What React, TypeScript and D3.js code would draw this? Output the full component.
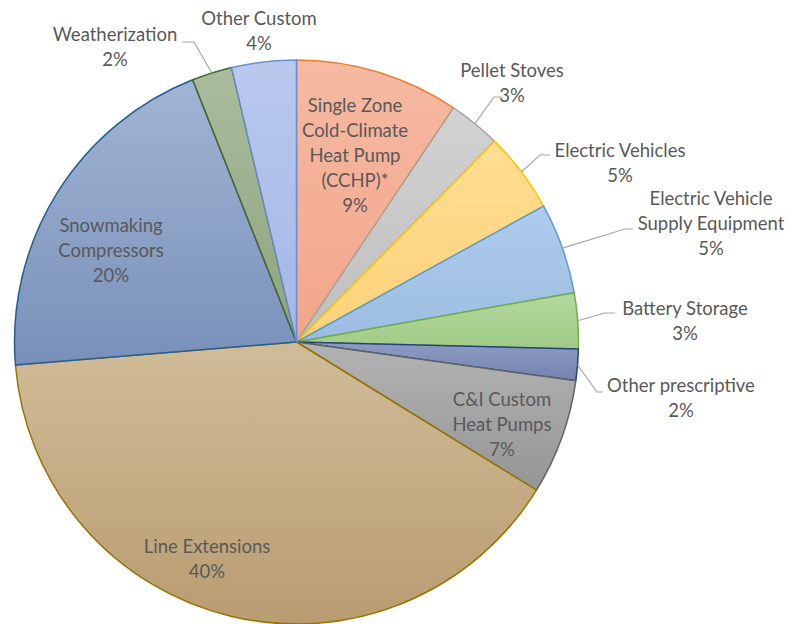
import * as React from 'react';
import * as d3 from 'd3';

// slice order, clockwise from 12 o'clock
const categories = [
  'Single Zone Cold-Climate Heat Pump (CCHP)*',
  'Pellet Stoves',
  'Electric Vehicles',
  'Electric Vehicle Supply Equipment',
  'Battery Storage',
  'Other prescriptive',
  'C&I Custom Heat Pumps',
  'Line Extensions',
  'Snowmaking Compressors',
  'Weatherization',
  'Other Custom',
];
const shares = [9.4, 3.0, 4.6, 5.2, 3.2, 1.8, 6.6, 39.9, 20.3, 2.3, 3.7];
const labelLines = [
  ['Single Zone', 'Cold-Climate', 'Heat Pump', '(CCHP)*'],
  ['Pellet Stoves'],
  ['Electric Vehicles'],
  ['Electric Vehicle', 'Supply Equipment'],
  ['Battery Storage'],
  ['Other prescriptive'],
  ['C&I Custom', 'Heat Pumps'],
  ['Line Extensions'],
  ['Snowmaking', 'Compressors'],
  ['Weatherization'],
  ['Other Custom'],
];

const edgeColors = ['#ED7D31', '#A5A5A5', '#FFC000', '#5B9BD5', '#70AD47', '#264478', '#636363', '#997300', '#255E91', '#43682B', '#698ED0'];
const topColors = ['#F6B9A2', '#D2D2D2', '#FFDD92', '#AECBEB', '#B4D89D', '#8E9CC4', '#B3B3B3', '#D0BC99', '#A2B4D4', '#A9BC9D', '#B9C9EE'];
const bottomColors = ['#F2A68A', '#BFBFBF', '#FDD27A', '#9CBDE2', '#A0CB86', '#7383AE', '#959595', '#B99C70', '#7890B9', '#8FA47F', '#A3B7E6'];

// label layout relative to pie centre: first baseline, and leader elbow/end
const labelPos = [
  [58.5, -230], [215.5, -265], [323.5, -185], [414.5, -137], [388.5, -27], [384.5, 50],
  [205.5, 64], [-89.5, 211], [-185.5, -110], [-181.5, -301], [-37.5, -317],
];
const leaders: (number[][] | null)[] = [
  null,
  [[197.5, -245], [205.5, -245]],
  [[243.5, -187], [253.5, -187]],
  [[328.5, -113], [336.5, -113]],
  [[308.5, -29], [318.5, -29]],
  [[300.5, 50], [306.5, 50]],
  null,
  null,
  null,
  [[-102.5, -300], [-114.5, -300]],
  null,
];

const W = 793;
const H = 624;
const cx = 296.5;
const cy = 342;
const R = 282;
const lineH = 25;

export default function App() {
  const pie = d3.pie<number>().sort(null).value((d) => d);
  const arcs = pie(shares);
  const arc = d3.arc<d3.PieArcDatum<number>>().innerRadius(0).outerRadius(R);
  const edgeArc = d3.arc<d3.PieArcDatum<number>>().innerRadius(R).outerRadius(R);
  const pct = (v: number) => `${Math.round(v)}%`;

  return (
    <svg width={W} height={H} style={{ position: 'absolute', left: 0, top: 0, background: '#fff' }}>
      <defs>
        {categories.map((c, i) => (
          <linearGradient key={c} id={`g${i}`} x1="0" y1="0" x2="0" y2="1">
            <stop offset="0%" stopColor={topColors[i]} />
            <stop offset="100%" stopColor={bottomColors[i]} />
          </linearGradient>
        ))}
      </defs>
      <g transform={`translate(${cx},${cy})`}>
        {arcs.map((a, i) => (
          <path key={categories[i]} d={arc(a) || ''} fill={`url(#g${i})`}
            stroke={edgeColors[i]} strokeWidth={1.5} strokeLinejoin="round" />
        ))}
        {arcs.map((a, i) => {
          const l = leaders[i];
          if (!l) return null;
          const [sx, sy] = edgeArc.centroid(a);
          const pts = [[sx, sy], ...l];
          return (
            <path key={`l${i}`} d={d3.line()(pts as [number, number][]) || ''}
              fill="none" stroke="#A6A6A6" strokeWidth={1.2} />
          );
        })}
        {arcs.map((a, i) => {
          const [x, y] = labelPos[i];
          const lines = [...labelLines[i], pct(shares[i])];
          return (
            <text key={`t${i}`} x={x} y={y} textAnchor="middle" fill="#595959"
              style={{ fontFamily: 'Lato, sans-serif', fontSize: 18.5 }}>
              {lines.map((s, j) => (
                <tspan key={j} x={x} y={y + j * lineH}>{s}</tspan>
              ))}
            </text>
          );
        })}
      </g>
    </svg>
  );
}
